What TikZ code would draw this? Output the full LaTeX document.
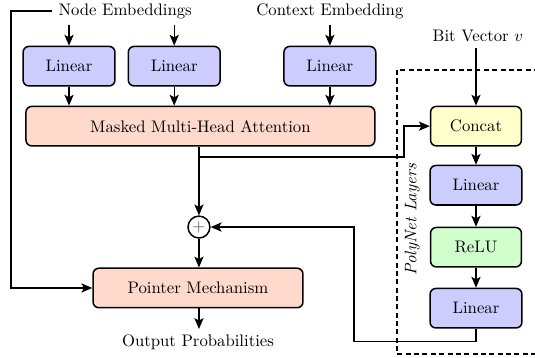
\documentclass[tikz,border=0pt]{standalone}
\usepackage{amsmath, amssymb}
\usepackage{tikz}
\usetikzlibrary{positioning,arrows.meta}

\definecolor{linblue}{RGB}{204,204,255}
\definecolor{attnpeach}{RGB}{255,218,204}
\definecolor{catyellow}{RGB}{255,255,204}
\definecolor{relugreen}{RGB}{208,255,204}

\begin{document}
\begin{tikzpicture}[
        % define styles
        block/.style={
            draw,
            line width=0.9pt,
            rounded corners=3.5pt,
            minimum height=0.83cm,
            align=center
        },
        linear/.style={
            block,
            fill=linblue,
            minimum width=1.93cm
        },
        attn/.style={
            block,
            fill=attnpeach
        },
        label/.style={
            draw=none,
            fill=none
        },
        every path/.style={thick},
        >={Stealth[length=6.5pt,width=5.5pt,inset=1.5pt]}
    ]
    \useasboundingbox (0,0) rectangle (11.24,-7.52);

    % inputs
    \node[label] (nodeemb) at (2.63,-0.23) {Node Embeddings};
    \node[label] (ctxemb)  at (6.93,-0.23) {Context Embedding};
    \node[label] (bitvec)  at (10.04,-0.76) {Bit Vector $v$};

    % projections and attention
    \node[linear] (lin1) at (1.45,-1.39) {Linear};
    \node[linear] (lin2) at (3.66,-1.39) {Linear};
    \node[linear] (lin3) at (6.93,-1.39) {Linear};
    \node[attn, minimum width=7.33cm] (mha) at (4.21,-2.65) {Masked Multi-Head Attention};

    \node[draw, circle, line width=0.9pt, inner sep=0pt, minimum size=0.46cm] (plus) at (4.18,-4.77) {\color{black!70}$+$};
    \node[attn, minimum width=4.41cm] (ptr) at (4.16,-6.05) {Pointer Mechanism};
    \node[label] (out) at (4.16,-7.2) {Output Probabilities};

    % PolyNet branch
    \node[block, fill=catyellow, minimum width=1.91cm] (concat) at (10.0,-2.65) {Concat};
    \node[linear, below=0.38cm of concat] (lin4) {Linear};
    \node[block, fill=relugreen, minimum width=1.91cm, below=0.44cm of lin4] (relu) {ReLU};
    \node[linear, below=0.42cm of relu] (lin5) {Linear};

    % dashed frame round the PolyNet layers
    \draw[dash pattern=on 3pt off 2pt] (11.5,-1.47) -- (8.34,-1.47) -- (8.34,-7.44) -- (11.5,-7.44);
    \node[label, rotate=90] (polynet) at (8.66,-4.62) {\textit{PolyNet Layers}};

    % bend points of the connectors
    \coordinate (left) at (0.23,-0.23);
    \coordinate (split) at (4.18,-3.3);
    \coordinate (kink) at (8.49,-3.3);
    \coordinate (back) at (7.44,-7.18);

    % embeddings into the linear layers
    \foreach \l in {lin1,lin2}
        \draw[->] (nodeemb.south -| \l.north) -- (\l.north);
    \draw[->] (ctxemb.south) -- (lin3.north);

    % linear layers into attention
    \foreach \l in {lin1,lin2,lin3}
        \draw[->] (\l.south) -- (\l.south |- mha.north);

    % node embeddings straight to the pointer
    \draw[->] (nodeemb.west) -- (left) |- (ptr.west);

    % attention output to the sum and to concat
    \draw[->] (mha.south -| plus) -- (plus.north);
    \draw[->] (split) -- (kink) |- (concat.west);
    \draw[->] (bitvec.south -| concat.north) -- (concat.north);

    % PolyNet chain
    \draw[->] (concat) -- (lin4);
    \draw[->] (lin4) -- (relu);
    \draw[->] (relu) -- (lin5);
    \draw[->] (lin5.south) |- (back) |- (plus.east);

    % sum into pointer, pointer to output
    \draw[->] (plus.south) -- (plus.south |- ptr.north);
    \draw[->] (ptr.south -| plus) -- (out.north -| plus);
\end{tikzpicture}
\end{document}
